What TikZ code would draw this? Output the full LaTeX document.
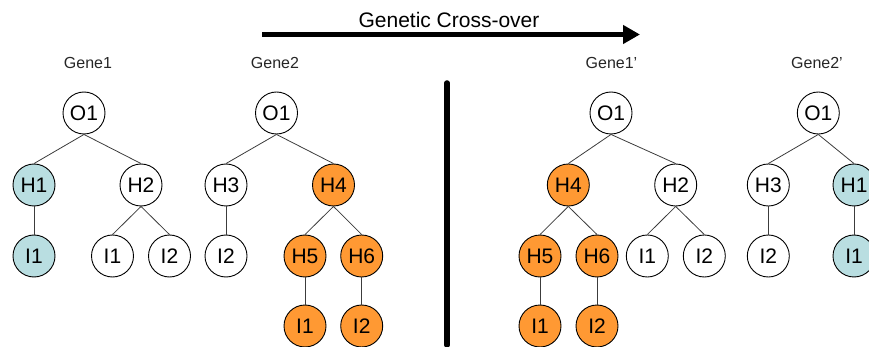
\documentclass[tikz,border=0pt]{standalone}
\usepackage{fontspec}
\setmainfont{Liberation Sans}
\usetikzlibrary{arrows.meta}
\definecolor{geneblue}{RGB}{185,222,225}
\definecolor{geneorange}{RGB}{255,153,51}
\definecolor{edgegray}{RGB}{60,60,60}
\tikzset{
  gnode/.style={circle, draw=black, line width=0.9pt, minimum size=42pt, inner sep=0pt,
                font=\fontsize{21}{23}\selectfont, fill=white},
  bluenode/.style={gnode, fill=geneblue},
  orangenode/.style={gnode, fill=geneorange},
  glabel/.style={font=\fontsize{16}{18}\selectfont, text=black!85},
  link/.style={draw=edgegray, line width=0.8pt},
  heavy/.style={line width=5.5pt}
}
\begin{document}
\begin{tikzpicture}[x=1pt, y=-1pt]
\useasboundingbox (0,0) rectangle (869,347);

% title arrow
\coordinate (arrowstart) at (262,34.5);
\coordinate (arrowend) at (640,34.5);
\draw[heavy, -{Triangle[length=17pt,width=18pt]}] (arrowstart) -- (arrowend);
\node[font=\fontsize{21}{23}\selectfont] (title) at (449,20) {Genetic Cross-over};

% separator
\coordinate (septop) at (447,83);
\coordinate (sepbot) at (447,345);
\draw[heavy, line cap=round] (septop) -- (sepbot);

% tree labels
\node[glabel] (lab1) at (88,63) {Gene1};
\node[glabel] (lab2) at (275,63) {Gene2};
\node[glabel] (lab3) at (611.5,63) {Gene1'};
\node[glabel] (lab4) at (817,63) {Gene2'};

% Gene1
\node[gnode] (a-o1) at (84,113) {O1};
\node[bluenode] (a-h1) at (34,185) {H1};
\node[gnode] (a-h2) at (141,185) {H2};
\node[bluenode] (a-i1) at (34,256) {I1};
\node[gnode] (a-i1b) at (112.5,256) {I1};
\node[gnode] (a-i2b) at (169.5,256) {I2};
\draw[link] (a-o1.south) -- (a-h1.north);
\draw[link] (a-o1.south) -- (a-h2.north);
\draw[link] (a-h1.south) -- (a-i1.north);
\draw[link] (a-h2.south) -- (a-i1b.north);
\draw[link] (a-h2.south) -- (a-i2b.north);

% Gene2
\node[gnode] (b-o1) at (276.5,113) {O1};
\node[gnode] (b-h3) at (226,185) {H3};
\node[orangenode] (b-h4) at (333.5,185) {H4};
\node[gnode] (b-i2) at (226,256) {I2};
\node[orangenode] (b-h5) at (305,256) {H5};
\node[orangenode] (b-h6) at (361.7,256) {H6};
\node[orangenode] (b-i1c) at (305,326) {I1};
\node[orangenode] (b-i2c) at (361.7,326) {I2};
\draw[link] (b-o1.south) -- (b-h3.north);
\draw[link] (b-o1.south) -- (b-h4.north);
\draw[link] (b-h3.south) -- (b-i2.north);
\draw[link] (b-h4.south) -- (b-h5.north);
\draw[link] (b-h4.south) -- (b-h6.north);
\draw[link] (b-h5.south) -- (b-i1c.north);
\draw[link] (b-h6.south) -- (b-i2c.north);

% Gene1'
\node[gnode] (c-o1) at (611,113) {O1};
\node[orangenode] (c-h4) at (568.3,185) {H4};
\node[gnode] (c-h2) at (675.7,185) {H2};
\node[orangenode] (c-h5) at (540,256) {H5};
\node[orangenode] (c-h6) at (597,256) {H6};
\node[gnode] (c-i1) at (647.3,256) {I1};
\node[gnode] (c-i2) at (704.3,256) {I2};
\node[orangenode] (c-i1c) at (540,326) {I1};
\node[orangenode] (c-i2c) at (597,326) {I2};
\draw[link] (c-o1.south) -- (c-h4.north);
\draw[link] (c-o1.south) -- (c-h2.north);
\draw[link] (c-h4.south) -- (c-h5.north);
\draw[link] (c-h4.south) -- (c-h6.north);
\draw[link] (c-h2.south) -- (c-i1.north);
\draw[link] (c-h2.south) -- (c-i2.north);
\draw[link] (c-h5.south) -- (c-i1c.north);
\draw[link] (c-h6.south) -- (c-i2c.north);

% Gene2'
\node[gnode] (d-o1) at (818.3,113) {O1};
\node[gnode] (d-h3) at (768.3,185) {H3};
\node[bluenode] (d-h1) at (854,185) {H1};
\node[gnode] (d-i2) at (768.3,256) {I2};
\node[bluenode] (d-i1) at (854,256) {I1};
\draw[link] (d-o1.south) -- (d-h3.north);
\draw[link] (d-o1.south) -- (d-h1.north);
\draw[link] (d-h3.south) -- (d-i2.north);
\draw[link] (d-h1.south) -- (d-i1.north);
\end{tikzpicture}
\end{document}
